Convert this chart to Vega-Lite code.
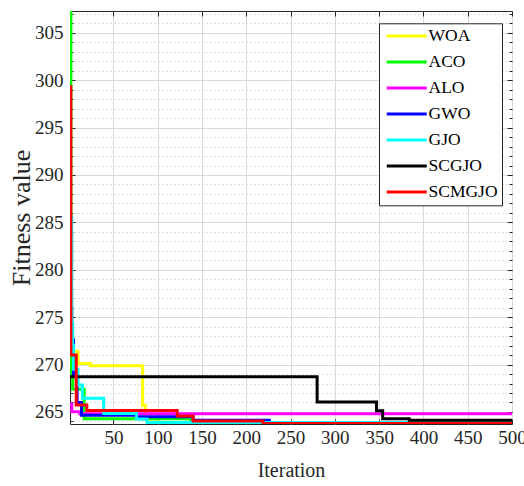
{
  "$schema": "https://vega.github.io/schema/vega-lite/v6.json",
  "width": 442,
  "height": 413,
  "autosize": {"type": "none"},
  "padding": {"left": 70, "top": 11, "right": 12, "bottom": 62},
  "background": "white",
  "config": {
    "font": "Liberation Serif",
    "view": {"stroke": "#262626", "strokeWidth": 1},
    "axis": {
      "labelFont": "Liberation Serif",
      "titleFont": "Liberation Serif",
      "labelFontSize": 19,
      "titleFontSize": 20,
      "titleFontWeight": "normal",
      "labelColor": "#262626",
      "titleColor": "#262626",
      "tickColor": "#262626",
      "labelFlush": false,
      "labelOverlap": false,
      "domain": false
    },
    "legend": {
      "labelFont": "Liberation Serif",
      "labelFontSize": 17.5,
      "labelColor": "#000000"
    }
  },
  "data": {
    "values": [
      {"alg": "WOA", "it": 1, "fit": 280.8},
      {"alg": "WOA", "it": 2, "fit": 271.4},
      {"alg": "WOA", "it": 10, "fit": 270.1},
      {"alg": "WOA", "it": 24, "fit": 269.88},
      {"alg": "WOA", "it": 83, "fit": 265.7},
      {"alg": "WOA", "it": 86, "fit": 264.3},
      {"alg": "WOA", "it": 89, "fit": 263.95},
      {"alg": "WOA", "it": 100, "fit": 263.76},
      {"alg": "WOA", "it": 500, "fit": 263.76},

      {"alg": "ACO", "it": 1, "fit": 310},
      {"alg": "ACO", "it": 2, "fit": 269.1},
      {"alg": "ACO", "it": 4, "fit": 267.4},
      {"alg": "ACO", "it": 17, "fit": 264.28},
      {"alg": "ACO", "it": 137, "fit": 264.05},
      {"alg": "ACO", "it": 219, "fit": 263.8},
      {"alg": "ACO", "it": 500, "fit": 263.8},

      {"alg": "ALO", "it": 1, "fit": 265.84},
      {"alg": "ALO", "it": 3, "fit": 265.03},
      {"alg": "ALO", "it": 12, "fit": 264.8},
      {"alg": "ALO", "it": 500, "fit": 264.8},

      {"alg": "GWO", "it": 1, "fit": 276},
      {"alg": "GWO", "it": 3, "fit": 272.6},
      {"alg": "GWO", "it": 5, "fit": 268.9},
      {"alg": "GWO", "it": 9, "fit": 266.0},
      {"alg": "GWO", "it": 14, "fit": 264.65},
      {"alg": "GWO", "it": 76, "fit": 264.5},
      {"alg": "GWO", "it": 140, "fit": 264.12},
      {"alg": "GWO", "it": 226, "fit": 263.85},
      {"alg": "GWO", "it": 500, "fit": 263.85},

      {"alg": "GJO", "it": 1, "fit": 285.6},
      {"alg": "GJO", "it": 3, "fit": 274.4},
      {"alg": "GJO", "it": 4, "fit": 272.0},
      {"alg": "GJO", "it": 5, "fit": 269.5},
      {"alg": "GJO", "it": 10, "fit": 267.85},
      {"alg": "GJO", "it": 15, "fit": 266.44},
      {"alg": "GJO", "it": 39, "fit": 264.85},
      {"alg": "GJO", "it": 76, "fit": 264.25},
      {"alg": "GJO", "it": 88, "fit": 263.88},
      {"alg": "GJO", "it": 500, "fit": 263.88},

      {"alg": "SCGJO", "it": 1, "fit": 268.72},
      {"alg": "SCGJO", "it": 280, "fit": 266.05},
      {"alg": "SCGJO", "it": 347, "fit": 265.13},
      {"alg": "SCGJO", "it": 354, "fit": 264.29},
      {"alg": "SCGJO", "it": 384, "fit": 264.12},
      {"alg": "SCGJO", "it": 500, "fit": 264.12},

      {"alg": "SCMGJO", "it": 1, "fit": 299.3},
      {"alg": "SCMGJO", "it": 2, "fit": 271.0},
      {"alg": "SCMGJO", "it": 8, "fit": 265.73},
      {"alg": "SCMGJO", "it": 20, "fit": 265.15},
      {"alg": "SCMGJO", "it": 122, "fit": 264.57},
      {"alg": "SCMGJO", "it": 140, "fit": 264.05},
      {"alg": "SCMGJO", "it": 219, "fit": 263.78},
      {"alg": "SCMGJO", "it": 500, "fit": 263.78}
    ]
  },
  "layer": [
    {
      "mark": {"type": "line", "opacity": 0},
      "encoding": {
        "x": {"field": "it", "type": "quantitative", "scale": {"domain": [1, 500], "nice": false, "zero": false}, "axis": null},
        "y": {
          "field": "fit", "type": "quantitative",
          "scale": {"domain": [263.73, 307.3], "nice": false, "zero": false},
          "axis": {
            "orient": "left", "title": null, "labels": false, "domain": false,
            "values": [264,265,266,267,268,269,270,271,272,273,274,275,276,277,278,279,280,281,282,283,284,285,286,287,288,289,290,291,292,293,294,295,296,297,298,299,300,301,302,303,304,305,306,307],
            "tickSize": -3, "grid": true, "gridColor": "#bdbdbd", "gridDash": [1, 3], "gridWidth": 1
          }
        }
      }
    },
    {
      "mark": {"type": "line", "opacity": 0},
      "encoding": {
        "x": {"field": "it", "type": "quantitative", "axis": null},
        "y": {
          "field": "fit", "type": "quantitative",
          "axis": {
            "orient": "right", "title": null, "labels": false, "domain": false, "grid": false,
            "values": [264,265,266,267,268,269,270,271,272,273,274,275,276,277,278,279,280,281,282,283,284,285,286,287,288,289,290,291,292,293,294,295,296,297,298,299,300,301,302,303,304,305,306,307],
            "tickSize": -3
          }
        }
      }
    },
    {
      "mark": {"type": "line", "opacity": 0},
      "encoding": {
        "x": {
          "field": "it", "type": "quantitative",
          "axis": {"orient": "bottom", "title": null, "labels": false, "grid": false, "values": [50,100,150,200,250,300,350,400,450,500], "tickSize": -5}
        },
        "y": {
          "field": "fit", "type": "quantitative",
          "axis": {"orient": "left", "title": null, "labels": false, "grid": false, "values": [265,270,275,280,285,290,295,300,305], "tickSize": -5}
        }
      }
    },
    {
      "mark": {"type": "line", "opacity": 0},
      "encoding": {
        "x": {
          "field": "it", "type": "quantitative",
          "axis": {"orient": "top", "title": null, "labels": false, "grid": false, "values": [50,100,150,200,250,300,350,400,450,500], "tickSize": -5}
        },
        "y": {
          "field": "fit", "type": "quantitative",
          "axis": {"orient": "right", "title": null, "labels": false, "grid": false, "values": [265,270,275,280,285,290,295,300,305], "tickSize": -5}
        }
      }
    },
    {
      "mark": {"type": "line", "interpolate": "step-after", "strokeWidth": 3, "clip": true},
      "encoding": {
        "x": {
          "field": "it", "type": "quantitative",
          "axis": {
            "orient": "bottom", "title": "Iteration", "ticks": false, "labelPadding": 4, "titlePadding": 13,
            "values": [50,100,150,200,250,300,350,400,450,500],
            "grid": true, "gridColor": "#d9d9d9", "gridWidth": 1
          }
        },
        "y": {
          "field": "fit", "type": "quantitative",
          "axis": {
            "orient": "left", "title": "Fitness value", "titleFontSize": 26, "ticks": false, "labelPadding": 7, "titlePadding": 0,
            "values": [265,270,275,280,285,290,295,300,305],
            "grid": true, "gridColor": "#d9d9d9", "gridWidth": 1
          }
        },
        "color": {
          "field": "alg", "type": "nominal",
          "scale": {
            "domain": ["WOA", "ACO", "ALO", "GWO", "GJO", "SCGJO", "SCMGJO"],
            "range": ["#ffff00", "#00ff00", "#ff00ff", "#0000ff", "#00ffff", "#000000", "#ff0000"]
          },
          "legend": {
            "title": null,
            "orient": "none",
            "legendX": 309,
            "legendY": 12.3,
            "fillColor": "white",
            "strokeColor": "#262626",
            "padding": 4,
            "rowPadding": 7,
            "symbolType": "M-1,0H7",
            "symbolSize": 100,
            "symbolStrokeWidth": 3,
            "labelOffset": 28
          }
        }
      }
    }
  ],
  "resolve": {"axis": {"x": "independent", "y": "independent"}}
}
